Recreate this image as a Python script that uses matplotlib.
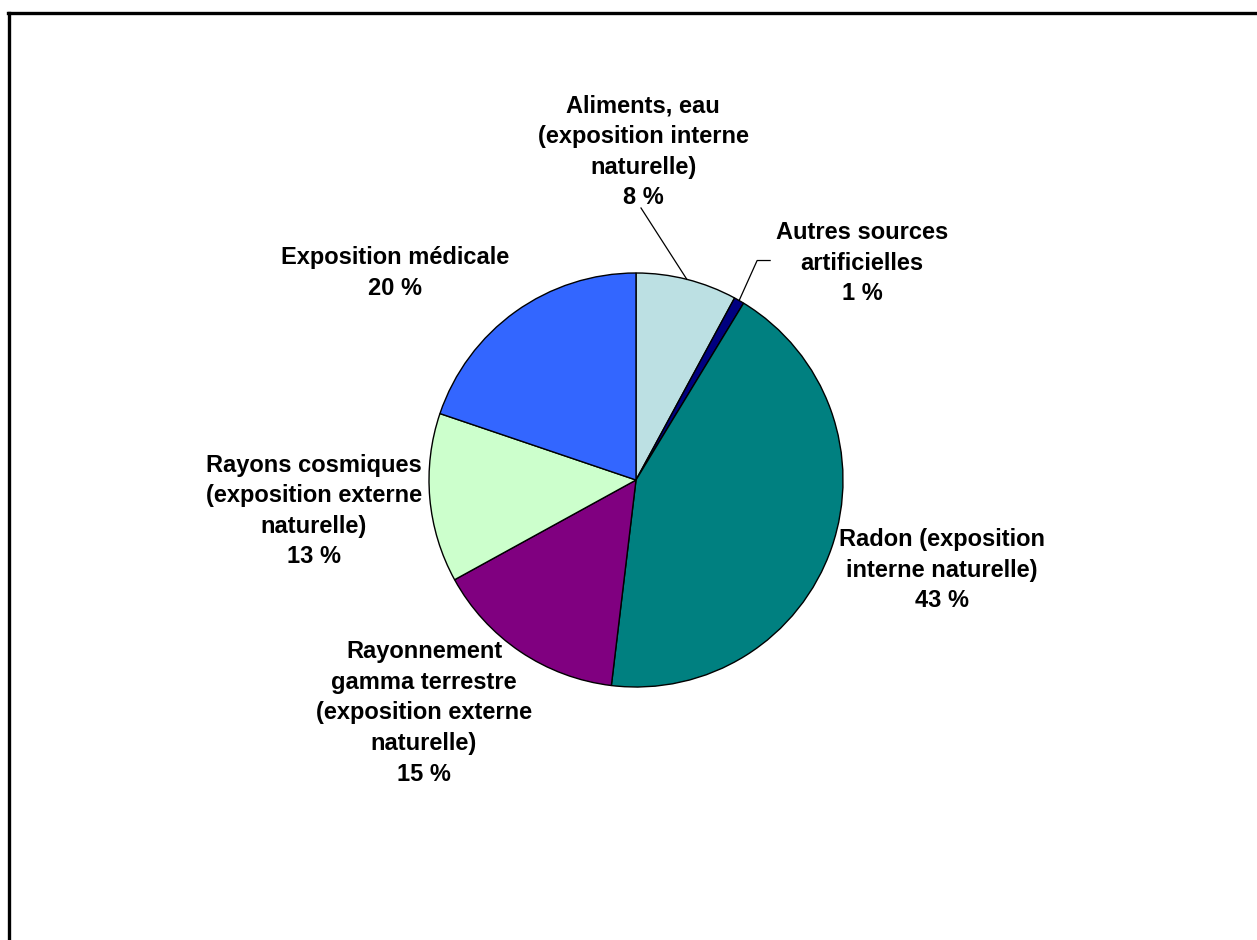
import numpy as np
import matplotlib.pyplot as plt
from matplotlib.lines import Line2D

# ---- data ----
categories = [
    "Aliments, eau\n(exposition interne\nnaturelle)",
    "Autres sources\nartificielles",
    "Radon (exposition\ninterne naturelle)",
    "Rayonnement\ngamma terrestre\n(exposition externe\nnaturelle)",
    "Rayons cosmiques\n(exposition externe\nnaturelle)",
    "Exposition médicale",
]
shares = [7.9, 0.8, 43.2, 15.1, 13.2, 19.8]
colors = ["#BCE0E3", "#000080", "#008080", "#800080", "#CCFFCC", "#3366FF"]

# ---- layout (pixel space, y up) ----
W, H = 1257, 940
center = (636, 460)
radius = 207
label_pos = [(643, 788), (862, 677), (942, 370), (424, 227), (314, 429), (395, 667)]
leader = [True, True, False, False, False, False]

fig = plt.figure(figsize=(W / 100, H / 100), dpi=100)
ax = fig.add_axes([0, 0, 1, 1])

wedges, _ = ax.pie(
    shares,
    colors=colors,
    startangle=90,
    counterclock=False,
    center=center,
    radius=radius,
    wedgeprops=dict(edgecolor="black", linewidth=1.0),
    frame=True,
)
ax.set_xlim(0, W)
ax.set_ylim(0, H)
ax.set_aspect("equal")
ax.axis("off")

for w, cat, val, pos, lead in zip(wedges, categories, shares, label_pos, leader):
    txt = f"{cat}\n{val:.0f} %"
    ax.text(pos[0], pos[1], txt, ha="center", va="center",
            fontsize=17, fontweight="bold", family="Liberation Sans",
            linespacing=1.42, color="black")
    if lead:
        ang = np.deg2rad((w.theta1 + w.theta2) / 2)
        ex = center[0] + radius * np.cos(ang)
        ey = center[1] + radius * np.sin(ang)
        if val > 2:
            ax.plot([ex, pos[0] - 2], [ey, pos[1] - 56], color="black", lw=0.9)
        else:
            ax.plot([ex, ex + 18, ex + 31], [ey, ey + 40, ey + 40], color="black", lw=0.9)

# outer frame (top and left only visible)
fig.add_artist(Line2D([8 / W, 1], [1 - 13 / H, 1 - 13 / H], color="black", lw=2.4))
fig.add_artist(Line2D([9 / W, 9 / W], [0, 1 - 13 / H], color="black", lw=2.4))

fig.savefig("out.png", dpi=100)
